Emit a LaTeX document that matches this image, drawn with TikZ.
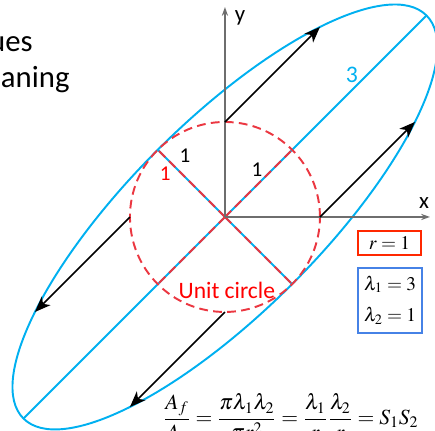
\documentclass[tikz,border=0pt]{standalone}
\usepackage{mathptmx}
\usepackage[no-math]{fontspec}
\setmainfont{Carlito}
\usetikzlibrary{arrows.meta, positioning}
\definecolor{ellblue}{RGB}{0,176,240}
\definecolor{circred}{RGB}{235,55,65}
\definecolor{labelred}{RGB}{255,0,0}
\definecolor{boxred}{RGB}{255,40,0}
\definecolor{boxblue}{RGB}{70,130,230}
\definecolor{axisgray}{RGB}{110,110,110}
\tikzset{
  ellipse line/.style={draw=ellblue, line width=1.1pt},
  unit line/.style={draw=circred, line width=1.1pt, dash pattern=on 5pt off 3pt},
  axis arrow/.style={draw=axisgray, line width=0.85pt, -{Stealth[length=5pt,width=3.5pt]}},
  stretch/.style={draw, line width=0.9pt, -{Stealth[length=9pt,width=7pt,inset=2.5pt]}},
  slide text/.style={font=\fontsize{17.5}{21}\selectfont, inner sep=0pt, anchor=base east},
  value box/.style={draw, line width=1pt, inner sep=2pt, font=\fontsize{11}{13}\selectfont},
}
\begin{document}
\begin{tikzpicture}[x=1.9cm, y=1.9cm, >=Stealth]
  \useasboundingbox (-2.368,-2.253) rectangle (2.211,2.284);
  \coordinate (O) at (0,0);
  \coordinate (V1) at (45:3);
  \coordinate (V2) at (225:3);
  \coordinate (M1) at (135:1);
  \coordinate (M2) at (-45:1);
  \coordinate (C1) at (45:1);
  \coordinate (C2) at (225:1);
  \coordinate (Px) at (1,0);
  \coordinate (Py) at (0,1);
  \coordinate (Nx) at (-1,0);
  \coordinate (Ny) at (0,-1);
  \coordinate (Ax) at (2,1);
  \coordinate (Ay) at (1,2);
  \coordinate (Bx) at (-2,-1);
  \coordinate (By) at (-1,-2);
  \coordinate (Xend) at (2.158,0);
  \coordinate (Yend) at (0,2.210);

  \node[slide text] (t1) at (-2.021,1.737) {ues};
  \node[slide text] (t2) at (-1.632,1.358) {aning};

  \draw[ellipse line, rotate=45] (O) ellipse [x radius=3, y radius=1];
  \draw[ellipse line] (V2) -- (V1);
  \draw[ellipse line] (M1) -- (M2);
  \draw[unit line] (O) circle [radius=1];
  \draw[unit line] (O) -- (M1);
  \draw[unit line] (O) -- (M2);
  \draw[unit line] (O) -- (C1);
  \draw[unit line] (O) -- (C2);

  \draw[axis arrow] (O) -- (Xend);
  \draw[axis arrow] (O) -- (Yend);
  \node[font=\fontsize{13}{15}\selectfont] (xlab) at (2.095,0.147) {x};
  \node[font=\fontsize{13}{15}\selectfont] (ylab) at (0.158,2.095) {y};

  \draw[stretch] (Px) -- (Ax);
  \draw[stretch] (Py) -- (Ay);
  \draw[stretch] (Nx) -- (Bx);
  \draw[stretch] (Ny) -- (By);

  \node[font=\fontsize{12}{14}\selectfont] (one1) at (-0.42,0.65) {1};
  \node[font=\fontsize{12}{14}\selectfont] (one2) at (0.337,0.495) {1};
  \node[font=\fontsize{12}{14}\selectfont, text=labelred] (one3) at (-0.63,0.46) {1};
  \node[font=\fontsize{13.5}{15}\selectfont, text=ellblue] (three) at (1.337,1.495) {3};
  \node[font=\fontsize{13.4}{16}\selectfont, text=labelred] (ucirc) at (0.02,-0.77) {Unit circle};

  \node[value box, draw=boxred, minimum width=1.254cm, minimum height=0.475cm] (rbox) at (1.732,-0.274) {$r=1$};
  \node[value box, draw=boxblue, minimum width=1.28cm, minimum height=1.3cm, align=center, anchor=north west] (lbox) at ([yshift=-0.22cm]rbox.south west) {$\lambda_1=3$\\[5pt]$\lambda_2=1$};

  \node[font=\fontsize{12.3}{14}\selectfont] (area) at (0.695,-2.12)
    {$\displaystyle \frac{A_f}{A_c}=\frac{\pi\lambda_1\lambda_2}{\pi r^2}=\frac{\lambda_1}{r}\frac{\lambda_2}{r}=S_1S_2$};
\end{tikzpicture}
\end{document}
